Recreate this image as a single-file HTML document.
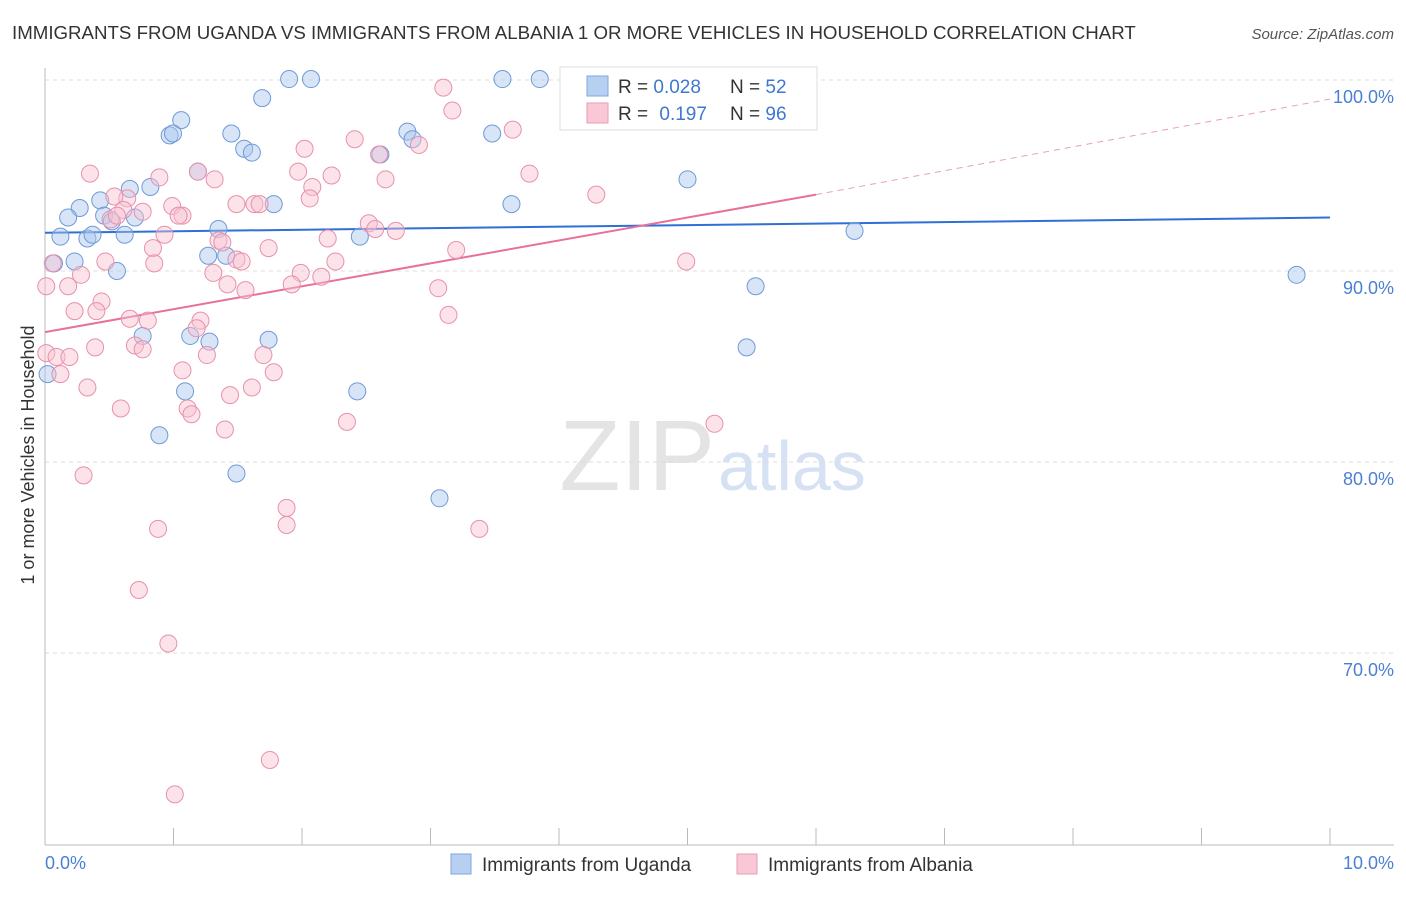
<!DOCTYPE html>
<html><head><meta charset="utf-8"><style>
body{margin:0;background:#fff;font-family:"Liberation Sans",sans-serif;}
svg text{font-family:"Liberation Sans",sans-serif;}
</style></head><body>
<svg id="chart" width="1406" height="892" viewBox="0 0 1406 892">
<text x="12" y="39" font-size="18.7" fill="#333">IMMIGRANTS FROM UGANDA VS IMMIGRANTS FROM ALBANIA 1 OR MORE VEHICLES IN HOUSEHOLD CORRELATION CHART</text>
<text x="1394" y="39" font-size="15" fill="#555" text-anchor="end" font-style="italic">Source: ZipAtlas.com</text>
<text x="715" y="490" font-size="100" fill="#e4e4e4" text-anchor="end" font-family="Liberation Serif">ZIP</text>
<text x="718" y="490" font-size="70" fill="#d6e2f3">atlas</text>
<g id="grid"></g>
<g id="axes"></g>
<g id="lines"></g>
<g id="points"></g>
<text transform="translate(34,455) rotate(-90)" font-size="18" fill="#333" text-anchor="middle">1 or more Vehicles in Household</text>
<text x="45" y="869" font-size="18" fill="#4a7fd4">0.0%</text>
<text x="1394" y="869" font-size="18" fill="#4a7fd4" text-anchor="end">10.0%</text>
<g>
<rect x="560" y="67" width="257" height="63" fill="#fff" stroke="#ddd"/>
<rect x="587" y="76" width="21" height="20" fill="#b7d0f2" stroke="#7fa7e0"/>
<rect x="587" y="103" width="21" height="20" fill="#f9c8d6" stroke="#ec9ab3"/>
<text x="618" y="93" font-size="19" fill="#333">R = <tspan fill="#3f78d0">0.028</tspan></text>
<text x="730" y="93" font-size="19" fill="#333">N = <tspan fill="#3f78d0">52</tspan></text>
<text x="618" y="120" font-size="19" fill="#333">R = <tspan fill="#3f78d0" dx="6">0.197</tspan></text>
<text x="730" y="120" font-size="19" fill="#333">N = <tspan fill="#3f78d0">96</tspan></text>
</g>
<g>
<rect x="451" y="854" width="20" height="20" fill="#b7d0f2" stroke="#7fa7e0"/>
<text x="482" y="871" font-size="19" fill="#333">Immigrants from Uganda</text>
<rect x="737" y="854" width="20" height="20" fill="#f9c8d6" stroke="#ec9ab3"/>
<text x="768" y="871" font-size="19" fill="#333">Immigrants from Albania</text>
</g>
</svg>
<script>
const yTicks=[100,90,80,70];
const xTicks=[0,1,2,3,4,5,6,7,8,9,10];
const ugandaX=[1.90,2.07,3.56,3.85,1.69,1.06,0.97,0.996,1.45,2.82,2.86,3.48,1.55,1.61,2.61,1.19,5.00,0.82,0.66,0.43,0.27,1.78,3.63,0.18,0.46,0.70,0.52,1.35,0.62,0.12,0.33,0.37,2.45,6.30,0.07,0.23,1.27,1.41,0.56,9.74,5.53,0.76,1.13,1.28,1.74,5.46,0.02,1.09,2.43,0.89,1.49,3.07];
const ugandaY=[100.05,100.05,100.05,100.05,99.05,97.9,97.1,97.2,97.2,97.3,96.9,97.2,96.4,96.2,96.1,95.2,94.8,94.4,94.3,93.7,93.3,93.5,93.5,92.8,92.9,92.8,92.6,92.2,91.9,91.8,91.7,91.9,91.8,92.1,90.4,90.5,90.8,90.8,90.0,89.8,89.2,86.6,86.6,86.3,86.4,86.0,84.6,83.7,83.7,81.4,79.4,78.1];
const albaniaX=[3.10,3.17,3.64,2.41,2.91,2.02,2.60,0.35,0.89,1.97,1.19,1.32,2.23,2.65,3.77,2.08,2.06,4.29,0.64,0.54,0.76,0.61,0.99,1.07,1.04,1.49,1.63,1.67,0.51,0.56,2.52,2.57,2.73,0.93,1.35,2.20,1.38,0.84,1.74,3.20,1.49,1.53,0.47,0.85,4.99,2.26,0.06,0.28,1.31,1.99,2.15,1.42,1.56,1.92,3.06,0.01,0.18,0.44,0.40,0.23,3.14,0.66,0.80,1.21,1.18,0.70,0.76,0.39,0.01,0.09,0.19,1.26,1.70,1.07,1.78,0.12,0.33,1.44,1.61,0.59,1.11,1.14,2.35,5.21,1.40,0.30,0.88,1.88,1.88,3.38,0.73,0.96,1.75,1.01];
const albaniaY=[99.6,98.4,97.4,96.9,96.6,96.4,96.1,95.1,94.9,95.2,95.2,94.8,95.0,94.8,95.1,94.4,93.8,94.0,93.8,93.9,93.1,93.2,93.4,92.9,92.9,93.5,93.5,93.5,92.7,92.9,92.5,92.2,92.1,91.9,91.6,91.7,91.5,91.2,91.2,91.1,90.6,90.5,90.5,90.4,90.5,90.5,90.4,89.8,89.9,89.9,89.7,89.3,89.0,89.3,89.1,89.2,89.2,88.4,87.9,87.9,87.7,87.5,87.4,87.4,87.0,86.1,85.9,86.0,85.7,85.5,85.5,85.6,85.6,84.8,84.7,84.6,83.9,83.5,83.9,82.8,82.8,82.5,82.1,82.0,81.7,79.3,76.5,77.6,76.7,76.5,73.3,70.5,64.4,62.6];
const blueLine=[[0,92.0],[10,92.8]];
const pinkLine=[[0,86.8],[6,94.0]];
const pinkDash=[[6,94.0],[10,99.0]];
const X=v=>45+v*128.5, Y=v=>80+(100-v)*19.1;
const NS='http://www.w3.org/2000/svg';
function mk(t,a,p){const e=document.createElementNS(NS,t);for(const k in a)e.setAttribute(k,a[k]);document.getElementById(p).appendChild(e);return e;}
yTicks.forEach(t=>{
 const g=mk('line',{x1:45,x2:1394,y1:Y(t),y2:Y(t),stroke:'#ddd','stroke-dasharray':'4,4'},'grid');
 
 
 const l=mk('text',{x:1394,y:Y(t)+23,'font-size':18,fill:'#4a7fd4','text-anchor':'end'},'grid');l.textContent=t.toFixed(1)+'%';
 
 
});
const ax=mk('line',{x1:45,x2:45,y1:68,y2:845,stroke:'#bbb'},'axes');


const bx=mk('line',{x1:45,x2:1394,y1:845,y2:845,stroke:'#bbb'},'axes');


xTicks.forEach(t=>{const e=mk('line',{x1:X(t),x2:X(t),y1:828,y2:845,stroke:'#bbb'},'axes');
 
 });
function pts(xs,ys,fill,stroke,name){xs.forEach((x,i)=>{const c=mk('circle',{cx:X(x),cy:Y(ys[i]),r:8.5,fill:fill,stroke:stroke,'stroke-width':1,'fill-opacity':0.45},'points');
 
 });}
pts(ugandaX,ugandaY,'#a9c6ee','#6f9ad8','uganda-point');
pts(albaniaX,albaniaY,'#f8c0d0','#e890ac','albania-point');
const b=mk('line',{x1:X(blueLine[0][0]),y1:Y(blueLine[0][1]),x2:X(blueLine[1][0]),y2:Y(blueLine[1][1]),stroke:'#2f6fd6','stroke-width':2},'lines');


const p=mk('line',{x1:X(pinkLine[0][0]),y1:Y(pinkLine[0][1]),x2:X(pinkLine[1][0]),y2:Y(pinkLine[1][1]),stroke:'#e8709a','stroke-width':2},'lines');


const d=mk('line',{x1:X(pinkDash[0][0]),y1:Y(pinkDash[0][1]),x2:X(pinkDash[1][0]),y2:Y(pinkDash[1][1]),stroke:'#e8a0b8','stroke-width':1,'stroke-dasharray':'6,5'},'lines');


</script>
</body></html>
